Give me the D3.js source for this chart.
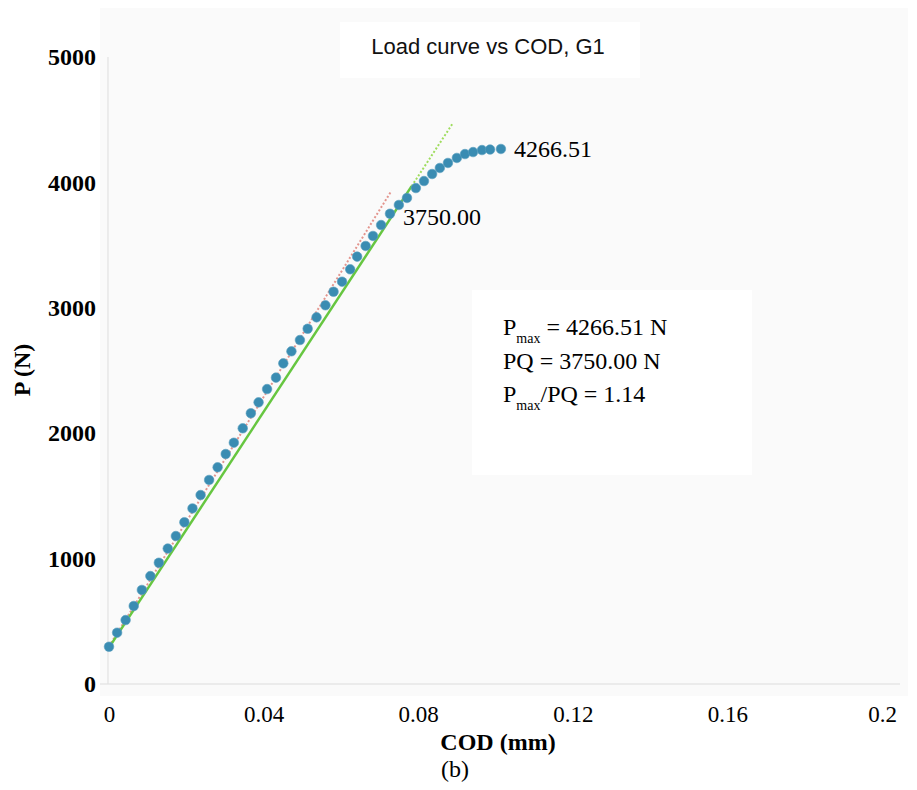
<!DOCTYPE html>
<html>
<head>
<meta charset="utf-8">
<script src="https://cdn.jsdelivr.net/npm/d3@7"></script>
<style>
  html, body { margin: 0; padding: 0; background: #ffffff; }
  svg { display: block; }
</style>
</head>
<body>
<svg id="chart" width="917" height="790"></svg>
<script>
// ---- data ----
const cod = [0.0000, 0.0021, 0.0043, 0.0064, 0.0085, 0.0107, 0.0129, 0.0152, 0.0173, 0.0195,
             0.0216, 0.0237, 0.0259, 0.0281, 0.0302, 0.0323, 0.0346, 0.0367, 0.0387, 0.0409,
             0.0432, 0.0451, 0.0472, 0.0494, 0.0514, 0.0537, 0.0560, 0.0581, 0.0603, 0.0624,
             0.0642, 0.0664, 0.0683, 0.0704, 0.0727, 0.0750, 0.0771, 0.0794, 0.0815, 0.0836,
             0.0856, 0.0877, 0.0900, 0.0921, 0.0942, 0.0965, 0.0986, 0.1014];
const load = [297, 409, 510, 622, 750, 861, 967, 1080, 1180, 1290,
              1400, 1507, 1627, 1728, 1834, 1924, 2039, 2159, 2246, 2352,
              2443, 2557, 2653, 2743, 2833, 2924, 3020, 3128, 3208, 3307,
              3408, 3493, 3573, 3660, 3750, 3820, 3876, 3955, 4011, 4067,
              4115, 4155, 4195, 4226, 4242, 4258, 4262, 4266.51];
// initial tangent (red dotted)
const tangentCod = [0, 0.0731];
const tangentLoad = [300, 3934];
// 95% secant (green solid part, then dotted extension)
const secantCod = [0, 0.0783];
const secantLoad = [290, 3970];
const secantExtCod = [0.0783, 0.0890];
const secantExtLoad = [3970, 4474];

const xTicks = [0, 0.04, 0.08, 0.12, 0.16, 0.2];
const yTicks = [0, 1000, 2000, 3000, 4000, 5000];
const titleText = "Load curve vs COD, G1";
const xLabel = "COD (mm)";
const yLabel = "P (N)";
const caption = "(b)";
const pMaxLabel = "4266.51";
const pqLabel = "3750.00";

// ---- chart ----
const svg = d3.select("#chart");
const x = d3.scaleLinear().domain([0, 0.2]).range([109, 882]);
const y = d3.scaleLinear().domain([0, 5000]).range([684, 57]);
const serif = "'Liberation Serif', 'Times New Roman', serif";

// faint plot area background
svg.append("rect").attr("x", 100).attr("y", 8).attr("width", 808).attr("height", 688)
   .attr("fill", "#fafafa");

// title box
svg.append("rect").attr("x", 340).attr("y", 22).attr("width", 300).attr("height", 56).attr("fill", "#ffffff");
svg.append("text").attr("x", 488).attr("y", 54).attr("text-anchor", "middle")
   .attr("font-family", "'Liberation Sans', Arial, sans-serif").attr("font-size", 22)
   .attr("fill", "#111").text(titleText);

// annotation box
svg.append("rect").attr("x", 472).attr("y", 290).attr("width", 280).attr("height", 185).attr("fill", "#ffffff");

// axes (faint lines, no ticks)
const xAxis = d3.axisBottom(x).tickValues(xTicks).tickSize(0).tickPadding(22)
  .tickFormat(d3.format("~g"));
const gx = svg.append("g").attr("transform", `translate(0,${y(0)})`).call(xAxis);
gx.select(".domain").attr("stroke", "#dcdcdc").attr("stroke-width", 1.2)
  .attr("d", `M${x(0) - 9},0H${x(0.2) + 18}`);
gx.selectAll("text").attr("font-family", serif)
  .attr("font-size", 23).attr("fill", "#000");

const yAxis = d3.axisLeft(y).tickValues(yTicks).tickSize(0).tickPadding(12)
  .tickFormat(d3.format("d"));
const gy = svg.append("g").attr("transform", `translate(${x(0) - 1},0)`).call(yAxis);
gy.select(".domain").attr("stroke", "#e2e2e2").attr("stroke-width", 1.2)
  .attr("d", `M0,${y(5000)}V${y(0)}`);
gy.selectAll("text").attr("font-family", serif)
  .attr("font-size", 24).attr("font-weight", "bold").attr("fill", "#000");

// axis titles
svg.append("text").attr("x", 498).attr("y", 750).attr("text-anchor", "middle")
   .attr("font-family", serif).attr("font-size", 24)
   .attr("font-weight", "bold").attr("fill", "#000").text(xLabel);
svg.append("text").attr("transform", "translate(30,370) rotate(-90)").attr("text-anchor", "middle")
   .attr("font-family", serif).attr("font-size", 24)
   .attr("font-weight", "bold").attr("fill", "#000").text(yLabel);
svg.append("text").attr("x", 455).attr("y", 777).attr("text-anchor", "middle")
   .attr("font-family", serif).attr("font-size", 24)
   .attr("fill", "#000").text(caption);

// lines
const line = d3.line().x(d => x(d[0])).y(d => y(d[1]));
svg.append("path").datum(d3.zip(tangentCod, tangentLoad)).attr("d", line)
   .attr("fill", "none").attr("stroke", "#e3958e").attr("stroke-width", 2).attr("stroke-dasharray", "2,2");
svg.append("path").datum(d3.zip(secantExtCod, secantExtLoad)).attr("d", line)
   .attr("fill", "none").attr("stroke", "#9fdc5e").attr("stroke-width", 2).attr("stroke-dasharray", "2,2");
svg.append("path").datum(d3.zip(secantCod, secantLoad)).attr("d", line)
   .attr("fill", "none").attr("stroke", "#66c640").attr("stroke-width", 2.5);

// points
svg.append("g").selectAll("circle").data(d3.zip(cod, load)).join("circle")
   .attr("cx", d => x(d[0])).attr("cy", d => y(d[1])).attr("r", 4.8)
   .attr("fill", "#3a8cb2").attr("stroke", "#5a9fc0").attr("stroke-width", 0.6);

// point labels
svg.append("text").attr("x", x(cod[cod.length - 1]) + 13).attr("y", 157)
   .attr("font-family", serif).attr("font-size", 24).attr("fill", "#000").text(pMaxLabel);
svg.append("text").attr("x", 403).attr("y", 225)
   .attr("font-family", serif).attr("font-size", 24).attr("fill", "#000").text(pqLabel);

// annotation text
const ann = svg.append("g").attr("font-family", serif).attr("fill", "#000");
const t1 = ann.append("text").attr("x", 503).attr("y", 335).attr("font-size", 24);
t1.append("tspan").text("P");
t1.append("tspan").attr("font-size", 14).attr("dy", 8).text("max");
t1.append("tspan").attr("dy", -8).text(" = 4266.51 N");
ann.append("text").attr("x", 503).attr("y", 369).attr("font-size", 24).text("PQ = 3750.00 N");
const t3 = ann.append("text").attr("x", 503).attr("y", 402).attr("font-size", 24);
t3.append("tspan").text("P");
t3.append("tspan").attr("font-size", 14).attr("dy", 8).text("max");
t3.append("tspan").attr("dy", -8).text("/PQ = 1.14");
</script>
</body>
</html>
